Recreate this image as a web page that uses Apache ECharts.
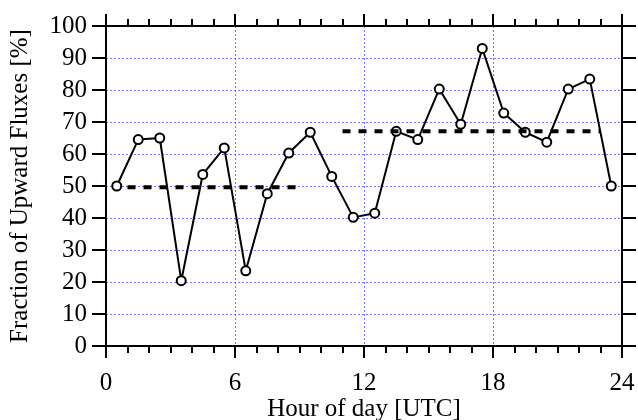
<!DOCTYPE html>
<html>
<head>
<meta charset="utf-8">
<script src="https://cdn.jsdelivr.net/npm/echarts@6/dist/echarts.min.js"></script>
<style>html,body{margin:0;padding:0;background:#fff}#c{width:638px;height:420px}</style>
</head>
<body>
<div id="c"></div>
<script>
var hours = [0.5,1.5,2.5,3.5,4.5,5.5,6.5,7.5,8.5,9.5,10.5,11.5,12.5,13.5,14.5,15.5,16.5,17.5,18.5,19.5,20.5,21.5,22.5,23.5];
var fraction = [50, 64.5, 65.0, 20.4, 53.6, 61.9, 23.5, 47.6, 60.3, 66.8, 53.0, 40.2, 41.5, 67.1, 64.5, 80.3, 69.3, 93.0, 72.8, 66.8, 63.7, 80.3, 83.4, 50];
var meanNightX = [1, 9];
var meanNightY = [49.6, 49.6];
var meanDayX = [11, 23];
var meanDayY = [67.1, 67.1];
var xTicks = [0, 6, 12, 18, 24];
var yTicks = [0,10,20,30,40,50,60,70,80,90,100];

var FONT = 'Liberation Serif';
function pairs(xs, ys){ return xs.map(function(x,i){return [x, ys[i]];}); }

var chart = echarts.init(document.getElementById('c'));
function axisLine(){ return {show:true, onZero:false, lineStyle:{color:'#000', width:2}}; }
function gridLine(){ return {show:true, lineStyle:{color:'#7373ff', width:1, type:[2,2]}}; }
chart.setOption({
  animation:false,
  backgroundColor:'#fff',
  grid:{left:106, right:16, top:26, bottom:74, containLabel:false, outerBoundsMode:'none'},
  xAxis:[{
    type:'value', min:xTicks[0], max:xTicks[xTicks.length-1], interval:6, position:'bottom',
    axisLine:axisLine(),
    axisTick:{show:true, inside:false, length:12, lineStyle:{color:'#000', width:2}},
    minorTick:{show:true, splitNumber:6, length:7, lineStyle:{color:'#000', width:2}},
    axisLabel:{show:true, margin:25, color:'#000', fontFamily:FONT, fontSize:25},
    splitLine:gridLine(),
    name:'Hour of day [UTC]', nameLocation:'middle', nameGap:51, nameMoveOverlap:false,
    nameTextStyle:{color:'#000', fontFamily:FONT, fontSize:25}
  },{
    type:'value', min:xTicks[0], max:xTicks[xTicks.length-1], interval:6, position:'top',
    axisLine:axisLine(),
    axisTick:{show:true, inside:false, length:12, lineStyle:{color:'#000', width:2}},
    minorTick:{show:true, splitNumber:6, length:7, lineStyle:{color:'#000', width:2}},
    axisLabel:{show:false}, splitLine:{show:false}
  }],
  yAxis:[{
    type:'value', min:yTicks[0], max:yTicks[yTicks.length-1], interval:10, position:'left',
    axisLine:axisLine(),
    axisTick:{show:true, inside:false, length:14, lineStyle:{color:'#000', width:2}},
    axisLabel:{show:true, margin:19, color:'#000', fontFamily:FONT, fontSize:25},
    splitLine:gridLine(),
    name:'Fraction of Upward Fluxes [%]', nameLocation:'middle', nameGap:73, nameMoveOverlap:false,
    nameTextStyle:{color:'#000', fontFamily:FONT, fontSize:25}
  },{
    type:'value', min:yTicks[0], max:yTicks[yTicks.length-1], interval:10, position:'right',
    axisLine:axisLine(),
    axisTick:{show:true, inside:false, length:14, lineStyle:{color:'#000', width:2}},
    axisLabel:{show:false}, splitLine:{show:false}
  }],
  series:[{
    type:'line', xAxisIndex:0, yAxisIndex:0, data:pairs(hours, fraction),
    symbol:'emptyCircle', symbolSize:9,
    itemStyle:{color:'#000', borderColor:'#000', borderWidth:1},
    lineStyle:{color:'#000', width:2}, z:3
  },{
    type:'line', xAxisIndex:0, yAxisIndex:0, data:pairs(meanNightX, meanNightY),
    symbol:'none', lineStyle:{color:'#000', width:4, type:[8,8]}, z:4
  },{
    type:'line', xAxisIndex:0, yAxisIndex:0, data:pairs(meanDayX, meanDayY),
    symbol:'none', lineStyle:{color:'#000', width:4, type:[8,8]}, z:4
  }]
});
</script>
</body>
</html>
